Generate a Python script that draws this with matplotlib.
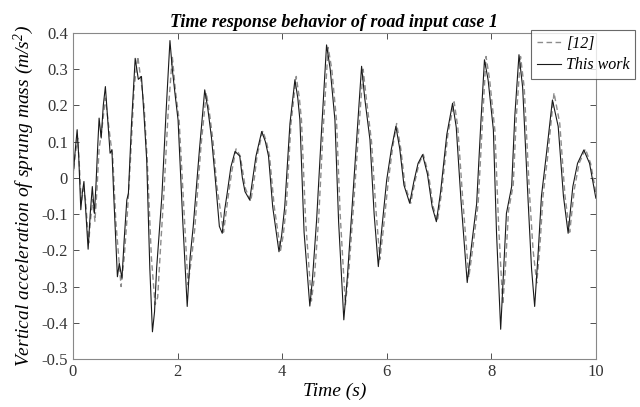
import numpy as np
import matplotlib
matplotlib.use("Agg")
import matplotlib.pyplot as plt

plt.rcParams['font.family'] = ['Liberation Serif', 'DejaVu Serif']
plt.rcParams['axes.unicode_minus'] = False
plt.rcParams['mathtext.fontset'] = 'custom'
plt.rcParams['mathtext.rm'] = 'Liberation Serif:italic'
plt.rcParams['mathtext.it'] = 'Liberation Serif:italic'

# "This work" (solid)
t_work = [0.00, 0.04, 0.08, 0.11, 0.15, 0.18, 0.21, 0.24, 0.29, 0.33, 0.37, 0.41, 0.44, 0.47,
          0.50, 0.54, 0.58, 0.62, 0.66, 0.71, 0.745, 0.78, 0.85, 0.886, 0.937, 0.98, 1.03, 1.06,
          1.12, 1.19, 1.25, 1.31, 1.36, 1.41, 1.47, 1.52, 1.56, 1.60, 1.70, 1.78, 1.855, 1.90,
          1.95, 2.01, 2.10, 2.185, 2.24, 2.30, 2.42, 2.52, 2.58, 2.65, 2.72, 2.80, 2.855, 2.90,
          2.95, 3.02, 3.10, 3.19, 3.24, 3.29, 3.38, 3.45, 3.50, 3.61, 3.68, 3.74, 3.82, 3.94,
          3.99, 4.05, 4.15, 4.245, 4.30, 4.34, 4.42, 4.53, 4.58, 4.66, 4.75, 4.85, 4.92, 5.01,
          5.08, 5.18, 5.25, 5.33, 5.42, 5.52, 5.58, 5.68, 5.76, 5.84, 5.90, 6.00, 6.09, 6.176,
          6.25, 6.33, 6.44, 6.52, 6.60, 6.686, 6.78, 6.87, 6.95, 7.03, 7.15, 7.26, 7.33, 7.42,
          7.54, 7.62, 7.72, 7.80, 7.87, 7.94, 8.04, 8.10, 8.18, 8.23, 8.29, 8.39, 8.45, 8.53,
          8.60, 8.70, 8.77, 8.83, 8.90, 8.96, 9.05, 9.17, 9.28, 9.38, 9.47, 9.56, 9.65, 9.77,
          9.88, 10.00]
a_work = [0.00, 0.07, 0.133, 0.06, -0.088, -0.04, -0.01, -0.08, -0.197, -0.10, -0.024, -0.098, -0.02, 0.077,
          0.165, 0.11, 0.20, 0.252, 0.17, 0.068, 0.077, -0.05, -0.273, -0.236, -0.277, -0.17, -0.061, -0.043,
          0.15, 0.33, 0.272, 0.28, 0.17, 0.05, -0.25, -0.425, -0.37, -0.25, -0.052, 0.18, 0.379, 0.30,
          0.234, 0.16, -0.12, -0.355, -0.22, -0.134, 0.08, 0.243, 0.19, 0.11, 0.0, -0.134, -0.153, -0.09,
          -0.042, 0.03, 0.073, 0.06, 0.0, -0.038, -0.061, 0.01, 0.06, 0.128, 0.10, 0.06, -0.08, -0.204,
          -0.16, -0.08, 0.15, 0.271, 0.22, 0.16, -0.15, -0.354, -0.28, -0.116, 0.12, 0.367, 0.30, 0.16,
          -0.12, -0.392, -0.27, -0.098, 0.10, 0.308, 0.22, 0.105, -0.10, -0.245, -0.15, -0.006, 0.08, 0.142,
          0.08, -0.02, -0.07, -0.01, 0.04, 0.064, 0.01, -0.08, -0.121, -0.04, 0.12, 0.206, 0.14, -0.06,
          -0.289, -0.19, -0.072, 0.15, 0.326, 0.27, 0.133, -0.15, -0.418, -0.27, -0.098, -0.024, 0.17, 0.34,
          0.25, -0.05, -0.25, -0.355, -0.20, -0.05, 0.06, 0.215, 0.142, -0.05, -0.153, -0.024, 0.04, 0.077,
          0.04, -0.056]

# "[12]" (dashed)
t_ref = [0.00, 0.04, 0.09, 0.12, 0.16, 0.20, 0.24, 0.30, 0.34, 0.38, 0.42, 0.46, 0.50, 0.55,
         0.62, 0.67, 0.72, 0.76, 0.82, 0.92, 0.98, 1.04, 1.10, 1.17, 1.24, 1.30, 1.36, 1.42,
         1.50, 1.57, 1.62, 1.68, 1.74, 1.82, 1.90, 1.96, 2.03, 2.12, 2.20, 2.27, 2.33, 2.45,
         2.55, 2.61, 2.68, 2.75, 2.88, 2.97, 3.04, 3.12, 3.20, 3.30, 3.40, 3.47, 3.52, 3.63,
         3.70, 3.76, 3.85, 3.97, 4.02, 4.08, 4.17, 4.27, 4.33, 4.37, 4.45, 4.56, 4.62, 4.70,
         4.78, 4.88, 4.95, 5.04, 5.11, 5.21, 5.28, 5.36, 5.45, 5.55, 5.61, 5.71, 5.79, 5.87,
         5.93, 6.03, 6.11, 6.19, 6.27, 6.35, 6.46, 6.54, 6.62, 6.70, 6.80, 6.89, 6.97, 7.05,
         7.17, 7.29, 7.36, 7.45, 7.57, 7.65, 7.75, 7.83, 7.90, 7.97, 8.07, 8.14, 8.22, 8.27,
         8.33, 8.42, 8.48, 8.56, 8.63, 8.73, 8.80, 8.87, 8.93, 8.99, 9.08, 9.20, 9.31, 9.41,
         9.50, 9.59, 9.68, 9.80, 9.90, 10.00]
a_ref = [0.00, 0.06, 0.11, 0.04, -0.07, -0.03, -0.06, -0.18, -0.11, -0.06, -0.12, -0.03, 0.08, 0.13,
         0.22, 0.16, 0.10, 0.06, -0.12, -0.30, -0.22, -0.10, 0.05, 0.25, 0.335, 0.27, 0.20, 0.05,
         -0.22, -0.35, -0.33, -0.18, -0.04, 0.18, 0.335, 0.24, 0.16, -0.08, -0.295, -0.22, -0.14, 0.09,
         0.235, 0.18, 0.10, -0.02, -0.15, -0.05, 0.02, 0.08, 0.06, -0.03, -0.065, 0.0, 0.06, 0.13,
         0.10, 0.06, -0.08, -0.20, -0.16, -0.08, 0.15, 0.28, 0.22, 0.16, -0.12, -0.34, -0.27, -0.11,
         0.12, 0.36, 0.30, 0.16, -0.10, -0.35, -0.25, -0.09, 0.10, 0.30, 0.22, 0.10, -0.08, -0.225,
         -0.15, -0.01, 0.08, 0.15, 0.08, -0.02, -0.07, -0.01, 0.04, 0.065, 0.01, -0.08, -0.12, -0.04,
         0.12, 0.21, 0.14, -0.05, -0.275, -0.19, -0.07, 0.15, 0.335, 0.27, 0.13, -0.13, -0.35, -0.25,
         -0.09, -0.02, 0.17, 0.335, 0.25, -0.04, -0.20, -0.29, -0.19, -0.05, 0.06, 0.235, 0.15, -0.05,
         -0.15, -0.03, 0.04, 0.08, 0.04, -0.04]

x_ticks = [0, 2, 4, 6, 8, 10]
y_ticks = [-0.5, -0.4, -0.3, -0.2, -0.1, 0, 0.1, 0.2, 0.3, 0.4]
y_labels = ['-0.5', '-0.4', '-0.3', '-0.2', '-0.1', '0', '0.1', '0.2', '0.3', '0.4']

fig = plt.figure(figsize=(6.4, 4.07), dpi=100)
ax = fig.add_axes([0.114, 0.118, 0.817, 0.801])

ax.plot(t_ref, a_ref, '--', color='#8c8c8c', lw=1.0, dashes=(4, 2.5), label='[12]')
ax.plot(t_work, a_work, '-', color='#1a1a1a', lw=0.8, label='This work')

ax.set_xlim(0, 10)
ax.set_ylim(-0.5, 0.4)
ax.set_xticks(x_ticks)
ax.set_yticks(y_ticks)
ax.set_yticklabels(y_labels)
ax.tick_params(direction='in', top=True, right=True, labelsize=12, colors='#333333',
               length=4, width=0.6)
for sp in ax.spines.values():
    sp.set_color('#888888')
    sp.set_linewidth(0.8)

ax.set_title('Time response behavior of road input case 1', fontsize=13,
             fontweight='bold', style='italic', pad=4)
ax.set_xlabel('Time (s)', fontsize=14, style='italic', labelpad=2)
ax.set_ylabel('Vertical acceleration of sprung mass (m/s$^{2}$)', fontsize=14,
              style='italic', labelpad=4)

leg = fig.legend(loc='upper left', bbox_to_anchor=(531 / 640, 1 - 30 / 407),
                 frameon=True, fancybox=False, borderaxespad=0,
                 handlelength=1.5, handletextpad=0.35, borderpad=0.35, labelspacing=0.35,
                 prop={'style': 'italic', 'size': 11.5})
leg.get_frame().set_edgecolor('#444444')
leg.get_frame().set_linewidth(0.8)

fig.savefig('out.png', dpi=100)
